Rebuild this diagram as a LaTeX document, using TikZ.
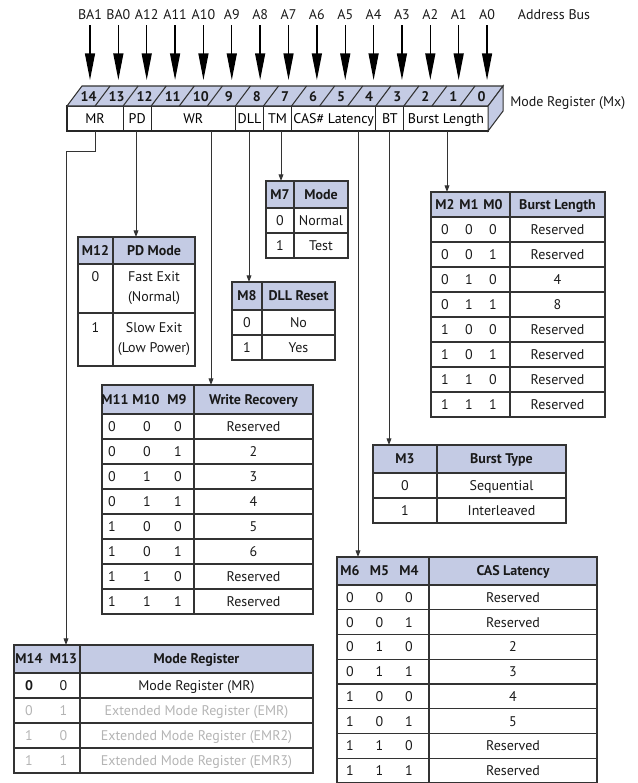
\documentclass[tikz,border=0pt]{standalone}
\usepackage{fontspec}
\setmainfont{PT Sans}
\usetikzlibrary{arrows.meta,positioning}
\definecolor{hdblue}{RGB}{196,203,228}
\definecolor{greytext}{RGB}{180,180,180}
\tikzset{
  txt/.style={inner sep=0pt, text height=7.3pt, text depth=0pt, text=black!90, font=\fontsize{10.5}{12.5}\selectfont},
  hd/.style={txt, font=\fontsize{10.5}{12.5}\selectfont\bfseries},
  field/.style={draw=black!85, line width=0.8pt, minimum height=18.75pt, inner sep=0pt, outer sep=0pt,
    text height=7.3pt, text depth=0pt, font=\fontsize{10.5}{12.5}\selectfont},
  tab/.style={draw=black!80, line width=0.8pt},
  busarrow/.style={-{Triangle[length=20pt,width=7.5pt]}, line width=1pt},
  conn/.style={-{Triangle[length=5pt,width=3.6pt]}, draw=black!80, line width=0.7pt},
}
\begin{document}
\begin{tikzpicture}[x=0.75pt,y=-0.75pt]
\useasboundingbox (0,0) rectangle (637,783);

\foreach \s [count=\i from 0] in {BA1,BA0,A12,A11,A10,A9,A8,A7,A6,A5,A4,A3,A2,A1,A0}
  \node[txt, anchor=base] (bus\i) at (90+28.36*\i,19) {\s};
\node[txt, anchor=base] (abus) at (554,19) {Address Bus};
\coordinate (tips) at (0,80);
\foreach \i in {0,...,14}
  \draw[busarrow, shorten <=4.5pt] (bus\i.south) -- (bus\i.south |- tips);

\node[field, minimum width=42.1pt] (mr) at (95.07,118.5) {MR};
\node[field, minimum width=21.05pt, right=0pt of mr] (pd) {PD};
\node[field, minimum width=63.16pt, right=0pt of pd] (wr) {WR};
\node[field, minimum width=21.05pt, right=0pt of wr] (dll) {DLL};
\node[field, minimum width=21.05pt, right=0pt of dll] (tm) {TM};
\node[field, minimum width=63.16pt, right=0pt of tm] (cas) {CAS\# Latency};
\node[field, minimum width=21.05pt, right=0pt of cas] (bt) {BT};
\node[field, minimum width=63.16pt, right=0pt of bt] (bl) {Burst Length};

\draw[tab, fill=hdblue] (mr.north west) -- ++(15,-20) -- ++(421.05,0) -- (bl.north east) -- cycle;
\draw[tab, fill=hdblue] (bl.north east) -- ++(15,-20) -- ++(0,25) -- (bl.south east) -- cycle;
\foreach \k in {1,...,14}
  \draw[tab] (67+28.07*\k,106) -- ++(15,-20);
\foreach \b [count=\k from 0] in {14,13,12,...,0}
  \node[hd] (bit\b) at (67+28.07*\k+21.5,97) {\b};
\node[txt, anchor=west] (mxlab) at (510,102) {Mode Register (Mx)};

\fill[hdblue] (266,181) rectangle (348,208);
\draw[tab] (266,181) rectangle (348,258);
\draw[tab] (294,181) -- (294,258);
\draw[tab] (266,208) -- (348,208) (266,233) -- (348,233);
\node[hd] (m7h) at (280,194.5) {M7};
\node[hd] (m7d) at (321,194.5) {Mode};
\node[txt] (m7a) at (280,220.5) {0};
\node[txt] (m7b) at (321,220.5) {Normal};
\node[txt] (m7c) at (280,245.5) {1};
\node[txt] (m7e) at (321,245.5) {Test};
\coordinate (m7top) at (281,181);

\fill[hdblue] (78,237) rectangle (195,264);
\draw[tab] (78,237) rectangle (195,366);
\draw[tab] (113,237) -- (113,366);
\draw[tab] (78,264) -- (195,264) (78,313) -- (195,313);
\node[hd] (pdh) at (95.5,250.5) {M12};
\node[hd] (pdd) at (154,250.5) {PD Mode};
\node[txt] (pda) at (95.5,277) {0};
\node[txt] (pdb) at (154,277) {Fast Exit};
\node[txt] (pdc) at (154,297) {(Normal)};
\node[txt] (pde) at (95.5,328) {1};
\node[txt] (pdf) at (154,328) {Slow Exit};
\node[txt] (pdg) at (154,348) {(Low Power)};
\coordinate (pdtop) at (136,237);

\fill[hdblue] (232,282) rectangle (335,310);
\draw[tab] (232,282) rectangle (335,360);
\draw[tab] (262,282) -- (262,360);
\draw[tab] (232,310) -- (335,310) (232,335) -- (335,335);
\node[hd] (m8h) at (247,296) {M8};
\node[hd] (m8d) at (298.5,296) {DLL Reset};
\node[txt] (m8a) at (247,322.5) {0};
\node[txt] (m8b) at (298.5,322.5) {No};
\node[txt] (m8c) at (247,347.5) {1};
\node[txt] (m8e) at (298.5,347.5) {Yes};
\coordinate (m8top) at (249,282);

\fill[hdblue] (431,192) rectangle (605,217);
\draw[tab] (431,192) rectangle (605,417);
\draw[tab] (510,192) -- (510,417);
\foreach \r in {0,...,7}
  \draw[tab] (431,217+25*\r) -- (605,217+25*\r);
\node[hd] (blh2) at (445,204.5) {M2};
\node[hd] (blh1) at (469,204.5) {M1};
\node[hd] (blh0) at (493,204.5) {M0};
\node[hd] (blhd) at (557.5,204.5) {Burst Length};
\foreach \a/\b/\c/\v [count=\r from 0] in {0/0/0/Reserved,0/0/1/Reserved,0/1/0/4,0/1/1/8,1/0/0/Reserved,1/0/1/Reserved,1/1/0/Reserved,1/1/1/Reserved}{
  \node[txt] (bla\r) at (445,229.5+25*\r) {\a};
  \node[txt] (blb\r) at (469,229.5+25*\r) {\b};
  \node[txt] (blc\r) at (493,229.5+25*\r) {\c};
  \node[txt] (blv\r) at (557.5,229.5+25*\r) {\v};
}
\coordinate (bltop) at (447,192);

\fill[hdblue] (102,385) rectangle (313,414);
\draw[tab] (102,385) rectangle (313,614);
\draw[tab] (194,385) -- (194,614);
\foreach \r in {0,...,7}
  \draw[tab] (102,414+25*\r) -- (313,414+25*\r);
\node[hd] (wrh11) at (115,399.5) {M11};
\node[hd] (wrh10) at (146,399.5) {M10};
\node[hd] (wrh9) at (177,399.5) {M9};
\node[hd] (wrhd) at (253.5,399.5) {Write Recovery};
\foreach \a/\b/\c/\v [count=\r from 0] in {0/0/0/Reserved,0/0/1/2,0/1/0/3,0/1/1/4,1/0/0/5,1/0/1/6,1/1/0/Reserved,1/1/1/Reserved}{
  \node[txt] (wra\r) at (112,426.5+25*\r) {\a};
  \node[txt] (wrb\r) at (147,426.5+25*\r) {\b};
  \node[txt] (wrc\r) at (178,426.5+25*\r) {\c};
  \node[txt] (wrv\r) at (253.5,426.5+25*\r) {\v};
}
\coordinate (wrtop) at (211,385);

\fill[hdblue] (373,445) rectangle (566,473);
\draw[tab] (373,445) rectangle (566,523);
\draw[tab] (437,445) -- (437,523);
\draw[tab] (373,473) -- (566,473) (373,498) -- (566,498);
\node[hd] (m3h) at (405,459) {M3};
\node[hd] (m3d) at (501.5,459) {Burst Type};
\node[txt] (m3a) at (405,485.5) {0};
\node[txt] (m3b) at (501.5,485.5) {Sequential};
\node[txt] (m3c) at (405,510.5) {1};
\node[txt] (m3e) at (501.5,510.5) {Interleaved};
\coordinate (bttop) at (389,445);

\fill[hdblue] (337,557) rectangle (597,585);
\draw[tab] (337,557) rectangle (597,783);
\draw[tab] (429,557) -- (429,783);
\foreach \r in {0,...,7}
  \draw[tab] (337,585+24.75*\r) -- (597,585+24.75*\r);
\node[hd] (cash6) at (350,571) {M6};
\node[hd] (cash5) at (379.5,571) {M5};
\node[hd] (cash4) at (409,571) {M4};
\node[hd] (cashd) at (513,571) {CAS Latency};
\foreach \a/\b/\c/\v [count=\r from 0] in {0/0/0/Reserved,0/0/1/Reserved,0/1/0/2,0/1/1/3,1/0/0/4,1/0/1/5,1/1/0/Reserved,1/1/1/Reserved}{
  \node[txt] (casa\r) at (350,597.4+24.75*\r) {\a};
  \node[txt] (casb\r) at (379.5,597.4+24.75*\r) {\b};
  \node[txt] (casc\r) at (409,597.4+24.75*\r) {\c};
  \node[txt] (casv\r) at (513,597.4+24.75*\r) {\v};
}
\coordinate (castop) at (358,557);

\fill[hdblue] (14,645) rectangle (313,673);
\draw[tab] (14,645) rectangle (313,773);
\draw[tab] (80,645) -- (80,773);
\foreach \r in {0,...,3}
  \draw[tab] (14,673+25*\r) -- (313,673+25*\r);
\node[hd] (mrh14) at (29,659) {M14};
\node[hd] (mrh13) at (63.5,659) {M13};
\node[hd] (mrhd) at (196.5,659) {Mode Register};
\node[hd] (mra0) at (29,685.5) {0};
\node[txt] (mrb0) at (63.5,685.5) {0};
\node[txt] (mrv0) at (196.5,685.5) {Mode Register (MR)};
\node[txt, text=greytext] (mra1) at (29,710.5) {0};
\node[txt, text=greytext] (mrb1) at (63.5,710.5) {1};
\node[txt, text=greytext] (mrv1) at (196.5,710.5) {Extended Mode Register (EMR)};
\node[txt, text=greytext] (mra2) at (29,735.5) {1};
\node[txt, text=greytext] (mrb2) at (63.5,735.5) {0};
\node[txt, text=greytext] (mrv2) at (196.5,735.5) {Extended Mode Register (EMR2)};
\node[txt, text=greytext] (mra3) at (29,760.5) {1};
\node[txt, text=greytext] (mrb3) at (63.5,760.5) {1};
\node[txt, text=greytext] (mrv3) at (196.5,760.5) {Extended Mode Register (EMR3)};
\coordinate (mrtop) at (66,645);

\draw[conn] (mr.south) -- ++(0,20) -| (mrtop);
\draw[conn] (pd.south -| pdtop) -- (pdtop);
\draw[conn] (wr.south -| wrtop) -- (wrtop);
\draw[conn] (dll.south -| m8top) -- (m8top);
\draw[conn] (tm.south -| m7top) -- (m7top);
\draw[conn] (cas.south -| castop) -- (castop);
\draw[conn] (bt.south -| bttop) -- (bttop);
\draw[conn] (bl.south -| bltop) -- (bltop);
\end{tikzpicture}
\end{document}
